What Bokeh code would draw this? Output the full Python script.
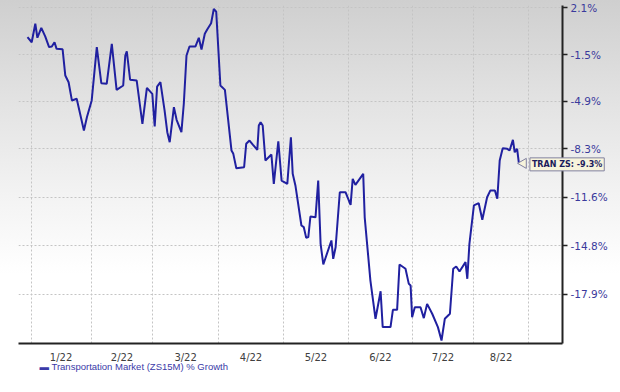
from bokeh.plotting import figure
from bokeh.models import (Range1d, FixedTicker, CustomJSTickFormatter,
                          Label, ColumnDataSource)
from bokeh.embed import file_html
from bokeh.resources import INLINE
import math

# ---- data (x = trading-session index, y = % growth) ----
session = [0, 1.4, 2.6, 3.3, 4.6, 5.9, 7.2, 8.1, 9.0, 9.7, 11.7, 12.6, 13.7, 14.8, 16.4, 18.8,
           19.8, 21.4, 23.1, 24.6, 26.4, 28.1, 29.7, 31.9, 32.6, 33.1, 34.2, 36.4, 38.3, 39.8,
           41.6, 42.4, 43.2, 44.3, 45.7, 46.6, 47.4, 48.8, 49.7, 51.3, 52.1, 53.0, 54.0, 56.0,
           57.1, 58.0, 59.1, 59.9, 61.2, 62.1, 62.9, 64.3, 65.8, 68.0, 68.6, 69.6, 72.2, 72.9,
           74.0, 75.1, 76.6, 77.1, 77.7, 78.4, 79.3, 81.3, 82.1, 83.6, 84.7, 86.6, 87.8, 88.4,
           89.3, 91.3, 92.1, 92.9, 93.6, 94.3, 96.0, 96.9, 97.7, 98.6, 101.3, 101.9, 102.7,
           104.1, 106.0, 107.7, 108.4, 109.3, 111.9, 112.4, 114.3, 116.0, 117.7, 118.4, 121.0,
           121.8, 123.2, 124.0, 126.0, 127.1, 127.7, 128.2, 129.1, 131.0, 132.1, 133.2, 134.9,
           136.8, 138.0, 139.1, 140.8, 141.9, 142.9, 144.0, 146.0, 146.6, 147.3, 148.8, 150.4,
           151.6, 153.2, 154.3, 155.8, 156.6, 157.4, 158.4, 159.9, 160.7, 161.8, 162.4, 163.2,
           163.8]
growth = [-0.16, -0.54, 0.87, -0.20, 0.56, -0.10, -0.91, -0.86, -0.54, -1.04, -1.07, -3.03,
          -3.52, -4.85, -4.73, -7.00, -6.06, -4.85, -0.91, -3.59, -3.64, -0.66, -4.08, -3.76,
          -1.54, -1.22, -3.34, -3.40, -6.53, -3.93, -4.37, -6.72, -3.84, -3.52, -5.58, -7.12,
          -7.83, -5.34, -6.24, -7.12, -5.09, -1.54, -0.86, -0.86, -0.20, -1.09, 0.10, 0.43,
          0.91, 2.02, 1.81, -3.76, -4.08, -8.41, -8.64, -9.64, -9.57, -7.94, -7.71, -7.99,
          -8.36, -6.65, -6.41, -6.65, -9.10, -8.69, -10.70, -7.76, -10.48, -10.70, -7.48,
          -10.02, -10.81, -13.49, -13.60, -14.30, -14.25, -12.90, -12.95, -10.48, -14.69,
          -16.02, -14.47, -15.66, -14.91, -11.27, -11.27, -12.12, -10.36, -10.77, -10.02,
          -12.95, -17.04, -19.42, -17.71, -19.93, -19.93, -18.87, -18.87, -16.02, -16.29,
          -17.25, -17.35, -19.32, -18.71, -18.71, -19.38, -18.50, -19.11, -19.93, -20.74,
          -19.42, -19.11, -16.29, -16.15, -16.47, -15.87, -16.93, -14.69, -12.16, -12.01,
          -13.11, -11.61, -11.15, -11.15, -11.71, -9.10, -8.25, -8.29, -8.41, -7.66, -8.53,
          -8.29, -9.3]
y_ticks = [2.1, -1.5, -4.9, -8.3, -11.6, -14.8, -17.9]
month_starts = [1.2, 21.2, 41.8, 63.6, 85.4, 106.9, 128.4, 148.6, 167.1]
month_labels = ["1/22", "2/22", "3/22", "4/22", "5/22", "6/22", "7/22", "8/22"]
series_name = "Transportation Market (ZS15M) % Growth"
tag_name = "TRAN ZS"

src = ColumnDataSource(data=dict(x=session, r=[1 + g / 100 for g in growth]))
x_rng = Range1d(-3, 178.33)
y_rng = Range1d(0.79078, 1.02281)

p = figure(width=620, height=392, output_backend="svg", toolbar_location=None,
           y_axis_type="log", y_axis_location="right", x_range=x_rng, y_range=y_rng,
           min_border_left=18, min_border_right=58, min_border_top=5, min_border_bottom=49)
p.styles = {"background": "linear-gradient(to bottom, #cfcfcf 0%, #e2e2e2 25%, #f3f3f3 50%, #ffffff 70%, #ffffff 100%)"}
p.border_fill_alpha = 0
p.background_fill_alpha = 0
p.outline_line_color = None

line = p.line("x", "r", source=src, line_color="#2020a0", line_width=2)

# grid
p.xgrid.ticker = FixedTicker(ticks=month_starts)
p.ygrid.ticker = FixedTicker(ticks=[1 + t / 100 for t in y_ticks])
for g in (p.xgrid, p.ygrid):
    g.grid_line_color = "#c4c4c4"
    g.grid_line_dash = "2 2"
    g.grid_line_width = 1

# y axis (right)
ya = p.yaxis[0]
ya.ticker = FixedTicker(ticks=[1 + t / 100 for t in y_ticks], num_minor_ticks=0)
ya.formatter = CustomJSTickFormatter(code="return ((tick - 1) * 100).toFixed(1) + '%';")
ya.axis_line_color = "#222222"
ya.axis_line_width = 2
ya.major_tick_line_color = "#222222"
ya.major_tick_line_width = 1.5
ya.major_tick_out = 5
ya.major_tick_in = 0
ya.minor_tick_line_color = None
ya.major_label_standoff = 3
ya.major_label_text_font = "DejaVu Sans"
ya.major_label_text_font_size = "10.5px"
ya.major_label_text_color = "#3a3a9c"

# x axis (bottom)
mids = [(month_starts[i] + month_starts[i + 1]) / 2 for i in range(len(month_labels))]
xa = p.xaxis[0]
xa.ticker = FixedTicker(ticks=mids)
xa.major_label_overrides = {m: lab for m, lab in zip(mids, month_labels)}
xa.axis_line_color = "#222222"
xa.axis_line_width = 2
xa.major_tick_line_color = None
xa.minor_tick_line_color = None
xa.major_label_standoff = 2
xa.major_label_text_font = "DejaVu Sans"
xa.major_label_text_font_size = "10px"
xa.major_label_text_color = "#404040"

# series key under the axis (side panel, anchored to the lower-left corner of the plot)
key = Label(x=x_rng.start, y=y_rng.start, x_offset=21, y_offset=-23,
            text="\u25ac " + series_name, text_font="Liberation Sans",
            text_font_size="9.5px", text_color="#3a3aa8", text_align="left",
            text_baseline="middle")
p.add_layout(key, "below")

# end-value tag (in a side panel so it is not clipped at the frame edge)
last_x, last_g = session[-1], growth[-1]
p.scatter(x=[last_x + 1.5], y=[1 + last_g / 100], marker="triangle", angle=math.pi / 2,
          size=10, fill_color="#f7f4dc", line_color="#8080a0", line_width=1)
tag = Label(x=last_x, y=1 + last_g / 100, x_offset=11, y_offset=-1,
            text=f"{tag_name}: {last_g:.1f}%", text_font="DejaVu Sans", text_font_style="bold",
            text_font_size="8px", text_color="#1c1c5c", text_align="left",
            text_baseline="middle", background_fill_color="#f7f4dc",
            border_line_color="#8080a0", border_line_width=1, padding=2)
p.add_layout(tag, "below")

open("out.html", "w").write(file_html(p, INLINE))
